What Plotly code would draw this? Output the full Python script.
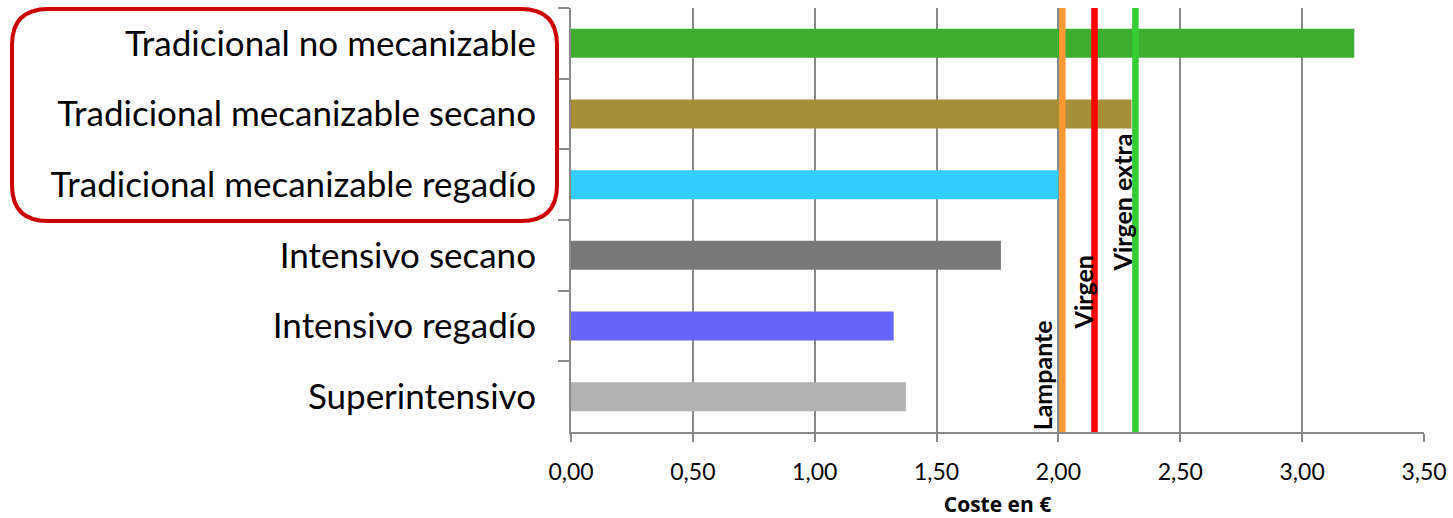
import plotly.graph_objects as go

# ---- data ----
categories = [
    "Tradicional no mecanizable",
    "Tradicional mecanizable secano",
    "Tradicional mecanizable regadío",
    "Intensivo secano",
    "Intensivo regadío",
    "Superintensivo",
]
costs = [3.214, 2.30, 2.00, 1.764, 1.324, 1.374]
bar_colors = ["#3DAE2F", "#A68F37", "#33CCFF", "#787878", "#6666FF", "#B2B2B2"]

price_labels = ["Lampante", "Virgen", "Virgen extra"]
price_values = [2.016, 2.148, 2.316]
price_colors = ["#FF9933", "#FF0000", "#33CC33"]
# label placement (styling): x pixel shift and paper-y of the label's bottom
label_xshift = [-20, -12, -13]
label_ybottom = [0.0, 0.236, 0.375]

x_ticks = [0, 0.5, 1.0, 1.5, 2.0, 2.5, 3.0, 3.5]

W, H = 1453, 518
L, R, T, B = 571, 29, 8, 86
PW, PH = W - L - R, H - T - B

GRID = "#898989"

fig = go.Figure()
fig.add_trace(go.Bar(
    y=categories, x=costs, orientation="h",
    marker=dict(color=bar_colors, line=dict(width=0)),
    width=0.41, showlegend=False, hoverinfo="x+y",
))

# vertical price lines
for v, c in zip(price_values, price_colors):
    fig.add_shape(type="line", xref="x", yref="paper", x0=v, x1=v, y0=0, y1=1,
                  line=dict(color=c, width=6.5), layer="above")

for lab, v, dx, yb in zip(price_labels, price_values, label_xshift, label_ybottom):
    fig.add_annotation(x=v, xref="x", y=yb, yref="paper", text=lab,
                       textangle=-90, showarrow=False, xanchor="center",
                       yanchor="bottom", xshift=dx,
                       font=dict(family="Lato", size=25, color="black", weight=700))

# rounded rectangle around the "Tradicional" labels (pixel -> paper)
def px(x):
    return (x - L) / PW

def py(y):
    return (H - B - y) / PH

x0p, x1p, y0p, y1p, r = 12, 557, 9, 221, 36
path = (
    f"M {px(x0p + r)},{py(y0p)} L {px(x1p - r)},{py(y0p)} "
    f"Q {px(x1p)},{py(y0p)} {px(x1p)},{py(y0p + r)} "
    f"L {px(x1p)},{py(y1p - r)} Q {px(x1p)},{py(y1p)} {px(x1p - r)},{py(y1p)} "
    f"L {px(x0p + r)},{py(y1p)} Q {px(x0p)},{py(y1p)} {px(x0p)},{py(y1p - r)} "
    f"L {px(x0p)},{py(y0p + r)} Q {px(x0p)},{py(y0p)} {px(x0p + r)},{py(y0p)} Z"
)
fig.add_shape(type="path", xref="paper", yref="paper", path=path,
              line=dict(color="#CC0000", width=4), fillcolor="rgba(0,0,0,0)",
              layer="above")

fig.update_layout(
    width=W, height=H,
    margin=dict(l=L, r=R, t=T, b=B, pad=0),
    paper_bgcolor="white", plot_bgcolor="white",
    separators=", ",
    font=dict(family="Lato", color="black"),
    bargap=0.59,
)
fig.update_xaxes(
    range=[0, 3.5], tickvals=x_ticks, tickformat=".2f",
    showgrid=True, gridcolor=GRID, gridwidth=2,
    showline=True, linecolor=GRID, linewidth=2,
    ticks="outside", ticklen=8, tickcolor=GRID, tickwidth=2,
    tickfont=dict(family="Lato", size=23, color="black"),
    ticklabelstandoff=10,
    zeroline=False, automargin=False,
    title=dict(text="Coste en €", standoff=18,
               font=dict(family="Open Sans", size=21, color="black", weight=700)),
)
fig.update_yaxes(
    categoryorder="array", categoryarray=categories, autorange="reversed",
    tickson="boundaries", ticks="outside", ticklen=11, tickcolor=GRID, tickwidth=2,
    showline=True, linecolor=GRID, linewidth=2, showgrid=False,
    tickfont=dict(family="Lato", size=35, color="black"),
    ticklabelstandoff=26, automargin=False,
)

fig.write_html("out.html", config={"displayModeBar": False},
               post_script="document.body.style.margin='0';document.body.style.overflow='hidden';")
